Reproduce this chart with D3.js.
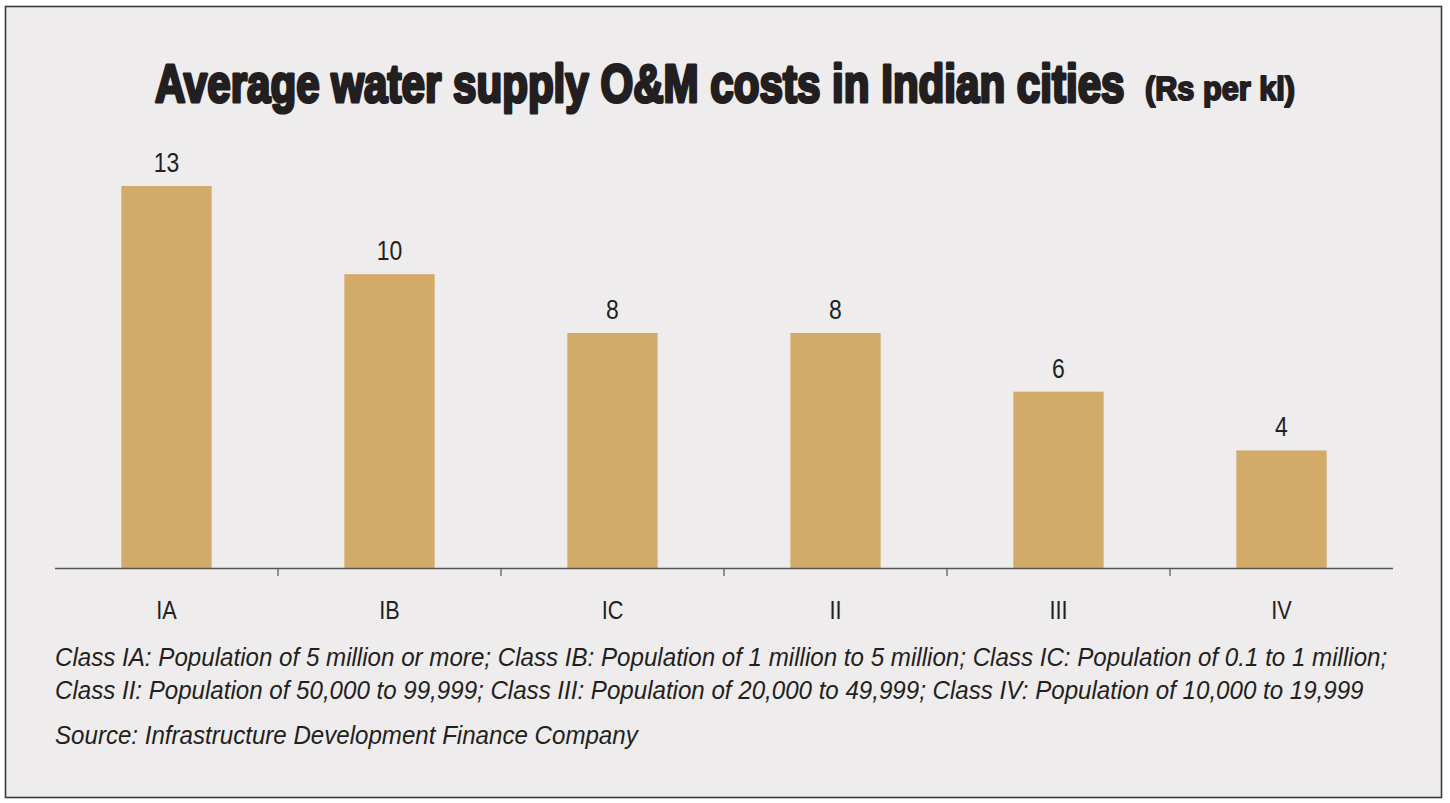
<!DOCTYPE html>
<html>
<head>
<meta charset="utf-8">
<script src="https://cdn.jsdelivr.net/npm/d3@7"></script>
<style>
  html, body { margin: 0; padding: 0; background: #ffffff; }
  svg { display: block; }
</style>
</head>
<body>
<svg id="chart" width="1450" height="803"></svg>
<script>
// chart data
var categories = ["IA", "IB", "IC", "II", "III", "IV"];
var costs = [13, 10, 8, 8, 6, 4];

var title_main = "Average water supply O&M costs in Indian cities";
var title_unit = "(Rs per kl)";
var notes = [
    "Class IA: Population of 5 million or more; Class IB: Population of 1 million to 5 million; Class IC: Population of 0.1 to 1 million;",
    "Class II: Population of 50,000 to 99,999; Class III: Population of 20,000 to 49,999; Class IV: Population of 10,000 to 19,999"
];
var source_note = "Source: Infrastructure Development Finance Company";

var svg = d3.select("#chart");
var font = "'Liberation Sans', Arial, Helvetica, sans-serif";
var ink = "#231f20";
var squeeze = 0.82;   // Liberation Sans squeezed to look like a narrow face

// puts a text in a group that is squeezed sideways; if fit_width is given the
// text is squeezed to exactly that width (style is applied before measuring)
function narrowText(parent, tx, ty, str, size, anchor, fit_width, style) {
    var g = parent.append("g");
    var t = g.append("text")
        .attr("x", 0).attr("y", 0)
        .attr("text-anchor", anchor || "start")
        .attr("font-family", font)
        .attr("font-size", size)
        .attr("fill", ink)
        .text(str);
    if (style) { style(t); }
    var s = squeeze;
    if (fit_width) { s = fit_width / t.node().getComputedTextLength(); }
    g.attr("transform", "translate(" + tx + "," + ty + ") scale(" + s + ",1)");
    return t;
}

function heavy(w) {
    return function(t) {
        t.attr("font-weight", "bold")
            .attr("stroke", ink)
            .attr("stroke-width", w)
            .attr("stroke-linejoin", "round");
    };
}
function italic(t) { t.attr("font-style", "italic"); }

// frame
svg.append("rect")
    .attr("x", 5.5).attr("y", 6.5)
    .attr("width", 1436).attr("height", 791)
    .attr("fill", "#eeecec")
    .attr("stroke", "#3a3a3a")
    .attr("stroke-width", 1.6);

// title
narrowText(svg, 155, 102, title_main, 54, "start", 970, heavy(3.2));
narrowText(svg, 1145, 99.5, title_unit, 33, "start", 150, heavy(2));

// scales
var left = 55, right = 1393, baseline = 568;

var x = d3.scaleBand()
    .domain(categories)
    .range([left, right])
    .paddingInner(0.595)
    .paddingOuter(0.2975);

var y = d3.scaleLinear()
    .domain([0, 13])
    .range([baseline, 186]);

// bars
svg.selectAll(".bar")
    .data(categories)
    .enter().append("rect")
    .attr("class", "bar")
    .attr("x", function(d) { return x(d); })
    .attr("y", function(d, i) { return y(costs[i]); })
    .attr("width", x.bandwidth())
    .attr("height", function(d, i) { return y(0) - y(costs[i]); })
    .attr("fill", "#d3ab69");

// value labels
categories.forEach(function(d, i) {
    narrowText(svg, x(d) + x.bandwidth() / 2, y(costs[i]) - 14, costs[i], 28, "middle");
});

// axis line and ticks between categories
svg.append("line")
    .attr("x1", left).attr("x2", right)
    .attr("y1", baseline + 0.5).attr("y2", baseline + 0.5)
    .attr("stroke", "#555")
    .attr("stroke-width", 1.3);

svg.selectAll(".tick_mark")
    .data(categories.slice(1))
    .enter().append("line")
    .attr("class", "tick_mark")
    .attr("x1", function(d) { return x(d) - x.step() * x.paddingInner() / 2; })
    .attr("x2", function(d) { return x(d) - x.step() * x.paddingInner() / 2; })
    .attr("y1", baseline)
    .attr("y2", baseline + 8)
    .attr("stroke", "#555")
    .attr("stroke-width", 1.2);

// category labels
categories.forEach(function(d) {
    narrowText(svg, x(d) + x.bandwidth() / 2, 619, d, 26.5, "middle");
});

// footnotes
var note_widths = [1333, 1309];
notes.forEach(function(d, i) {
    narrowText(svg, left, 666 + i * 32.5, d, 26, "start", note_widths[i], italic);
});

narrowText(svg, left, 744, source_note, 26, "start", 583, italic);
</script>
</body>
</html>
